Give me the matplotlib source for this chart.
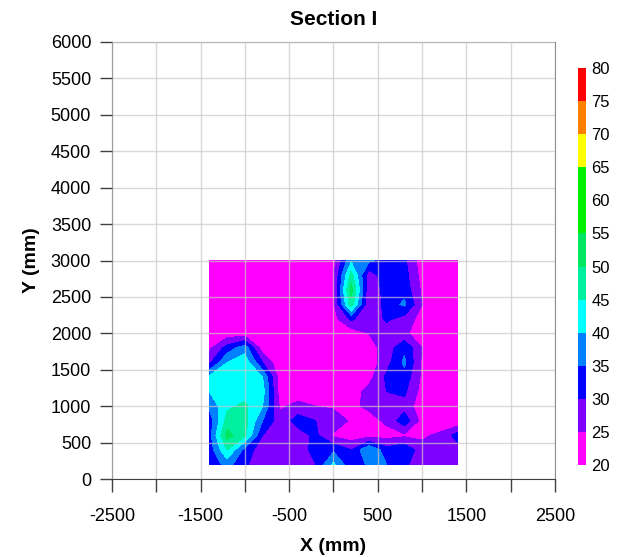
import numpy as np
import matplotlib
matplotlib.use("Agg")
import matplotlib.pyplot as plt
from matplotlib.colors import ListedColormap, BoundaryNorm

plt.rcParams['font.family'] = ['Liberation Sans', 'DejaVu Sans']

# measurement grid (mm)
xs = [-1400, -1200, -1000, -800, -600, -400, -200, 0, 200, 400, 600, 800, 1000, 1200, 1400]
ys = [3000, 2800, 2600, 2400, 2200, 2000, 1800, 1600, 1400, 1200, 1000, 800, 600, 400, 200]

# values, one row per y (top to bottom)
z = [
    [21, 21, 21, 21, 21, 21, 21, 23, 39, 36, 33, 31, 22, 21, 21],
    [21, 21, 21, 21, 21, 21, 21, 24, 47, 27, 33, 32, 23, 21, 21],
    [21, 21, 21, 21, 21, 21, 21, 24, 52, 26, 32, 33, 24, 21, 21],
    [21, 21, 21, 21, 21, 21, 21, 24, 48, 25, 32, 36, 25, 21, 21],
    [21, 21, 21, 21, 21, 21, 21, 23, 31, 26, 31, 28, 23, 21, 21],
    [22, 22, 22, 21, 21, 21, 21, 21, 22, 25, 27, 26, 22, 21, 21],
    [24, 32, 38, 22, 21, 21, 21, 21, 21, 23, 27, 34, 25, 21, 21],
    [29, 40, 43, 30, 21, 21, 21, 21, 21, 22, 28, 36, 24, 21, 21],
    [41, 43, 44, 40, 22, 21, 21, 21, 21, 23, 31, 33, 24, 21, 21],
    [40, 42, 43, 42, 22, 21, 21, 21, 22, 27, 30, 31, 23, 21, 21],
    [36, 44, 46, 40, 24, 27, 25, 24, 24, 26, 27, 28, 22, 21, 21],
    [32, 47, 47, 35, 27, 32, 30, 29, 24, 23, 26, 33, 23, 21, 21],
    [33, 52, 46, 30, 27, 28, 31, 24, 22, 23, 23, 24, 24, 26, 32],
    [32, 45, 33, 27, 26, 27, 32, 34, 30, 40, 32, 34, 27, 27, 28],
    [31, 37, 31, 26, 26, 25, 30, 41, 31, 36, 35, 31, 27, 26, 27],
]

levels = [20, 25, 30, 35, 40, 45, 50, 55, 60, 65, 70, 75, 80]
colors = ['#ff00ff', '#8000ff', '#0000ff', '#0080ff', '#00ffff', '#00f0a0',
          '#00e860', '#00f000', '#00f000', '#ffff00', '#ff8000', '#ff0000']

cmap = ListedColormap(colors)
norm = BoundaryNorm(levels, cmap.N)

fig = plt.figure(figsize=(6.18, 5.57), dpi=100)
ax = fig.add_axes([0.1812, 0.140, 0.7168, 0.7846])

X, Y = np.meshgrid(xs, ys)
cf = ax.contourf(X, Y, np.array(z), levels=levels, cmap=cmap, norm=norm, zorder=1)

ax.set_xlim(-2500, 2500)
ax.set_ylim(0, 6000)
xt = np.arange(-2500, 2501, 500)
ax.set_xticks(xt)
ax.set_xticklabels([str(v) if (v // 500) % 2 == 1 else '' for v in xt])
ax.set_yticks(np.arange(0, 6001, 500))

ax.set_axisbelow(False)
ax.grid(True, color='#c8c8c8', alpha=0.7, linewidth=1.0, zorder=2)

ax.tick_params(axis='both', direction='out', length=9, width=1, color='#404040', labelsize=13)
ax.tick_params(axis='x', pad=12)
ax.tick_params(axis='y', pad=6)
for side in ['left', 'bottom']:
    ax.spines[side].set_color('#404040')
for side in ['top', 'right']:
    ax.spines[side].set_color('#909090')

ax.set_title('Section I', fontsize=15, fontweight='bold', pad=12)
ax.set_xlabel('X (mm)', fontsize=14, fontweight='bold', labelpad=9)
ax.set_ylabel('Y (mm)', fontsize=14, fontweight='bold', labelpad=8)

cax = fig.add_axes([0.935, 0.165, 0.013, 0.713])
cb = fig.colorbar(cf, cax=cax, ticks=levels)
cb.outline.set_visible(False)
cax.tick_params(length=0, labelsize=12, pad=4)

fig.savefig('out.png', dpi=100)
